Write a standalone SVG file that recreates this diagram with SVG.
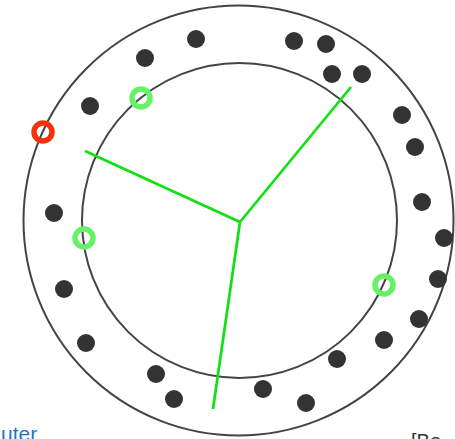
<svg xmlns="http://www.w3.org/2000/svg" width="455" height="439" viewBox="0 0 455 439">
<style>
.ring{fill:none;stroke:#444;stroke-width:2}
.dot{fill:#333}
.g{fill:none;stroke:#66f266;stroke-width:5.5}
.r{fill:none;stroke:#f53209;stroke-width:5.5}
.spoke{stroke:#11e011;stroke-width:2.7;fill:none}
text{font-family:"Liberation Sans",Arial,sans-serif}
</style>
<rect width="455" height="439" fill="#fff"/>
<g id="outer-circle"><circle class="ring" cx="238.5" cy="220.5" r="215"/></g>
<g id="inner-circle"><circle class="ring" cx="239.5" cy="220.5" r="157.5"/></g>
<g id="connectors">
<line class="spoke" x1="240" y1="222" x2="85" y2="151"/>
<line class="spoke" x1="240" y1="222" x2="351" y2="87"/>
<line class="spoke" x1="240" y1="222" x2="213" y2="409"/>
</g>
<g id="dots">
<circle class="dot" cx="145" cy="58" r="9"/>
<circle class="dot" cx="196" cy="39" r="9"/>
<circle class="dot" cx="294" cy="41" r="9"/>
<circle class="dot" cx="326" cy="44" r="9"/>
<circle class="dot" cx="332" cy="74" r="9"/>
<circle class="dot" cx="362" cy="74" r="9"/>
<circle class="dot" cx="90" cy="106" r="9"/>
<circle class="dot" cx="402" cy="115" r="9"/>
<circle class="dot" cx="415" cy="147" r="9"/>
<circle class="dot" cx="54" cy="213" r="9"/>
<circle class="dot" cx="422" cy="202" r="9"/>
<circle class="dot" cx="444" cy="238" r="9"/>
<circle class="dot" cx="438" cy="279" r="9"/>
<circle class="dot" cx="64" cy="289" r="9"/>
<circle class="dot" cx="419" cy="319" r="9"/>
<circle class="dot" cx="384" cy="340" r="9"/>
<circle class="dot" cx="86" cy="343" r="9"/>
<circle class="dot" cx="337" cy="359" r="9"/>
<circle class="dot" cx="156" cy="374" r="9"/>
<circle class="dot" cx="174" cy="399" r="9"/>
<circle class="dot" cx="263" cy="389" r="9"/>
<circle class="dot" cx="306" cy="403" r="9"/>
</g>
<g id="red-marker"><circle class="r" cx="43" cy="132" r="9"/></g>
<g id="green-markers">
<circle class="g" cx="141" cy="98" r="9"/>
<circle class="g" cx="84" cy="238" r="9"/>
<circle class="g" cx="384" cy="285" r="9"/>
</g>
<g id="labels">
<text x="1" y="441" font-size="21" fill="#1f77c0">uter</text>
<text x="411" y="448" font-size="20" fill="#333">[Be</text>
</g>
</svg>
